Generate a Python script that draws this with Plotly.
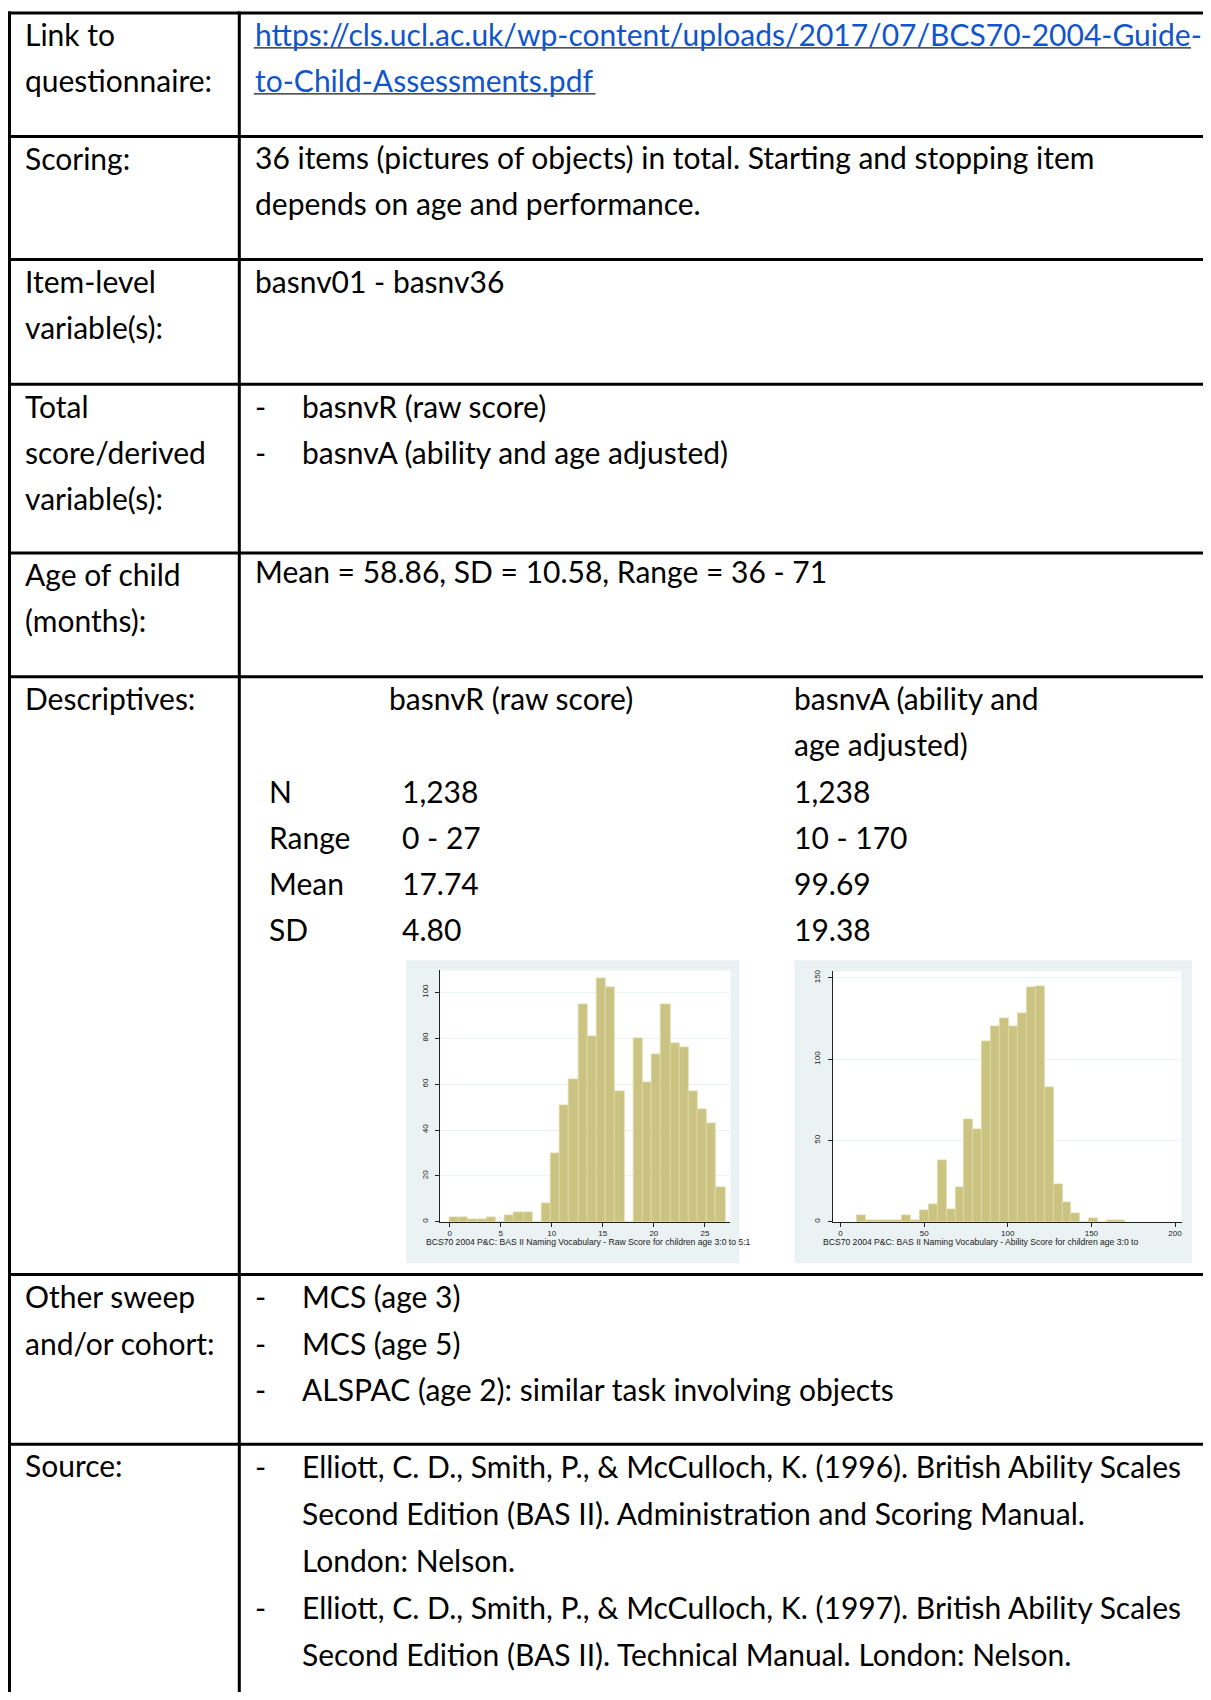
import plotly.graph_objects as go

PAGE_W, PAGE_H = 1211, 1700
OFF = 8  # default body margin of the html page
W, H = PAGE_W - OFF, PAGE_H - 2 * OFF

# ---------------- data ----------------
raw_bin_start = 0.0
raw_bin_width = 0.9
raw_counts = [2, 2, 1, 1, 2, 0, 3, 4, 4, 0, 8, 30, 51, 62, 95, 81, 106, 102, 57, 0,
              80, 61, 73, 95, 78, 76, 57, 49, 43, 15]
raw_xticks = [0, 5, 10, 15, 20, 25]
raw_yticks = [0, 20, 40, 60, 80, 100]
raw_caption = "BCS70 2004 P&C: BAS II Naming Vocabulary - Raw Score for children age 3:0 to 5:1"

abil_bin_start = 10.0
abil_bin_width = 160 / 30
abil_counts = [4, 1, 1, 1, 1, 4, 1, 7, 11, 38, 8, 21, 63, 57, 111, 120, 125, 120, 128, 144,
               145, 83, 23, 12, 5, 0, 2, 0, 1, 1]
abil_xticks = [0, 50, 100, 150, 200]
abil_yticks = [0, 50, 100, 150]
abil_caption = "BCS70 2004 P&C: BAS II Naming Vocabulary - Ability Score for children age 3:0 to"

row_labels = [["Link to", "questionnaire:"], ["Scoring:"], ["Item-level", "variable(s):"],
              ["Total", "score/derived", "variable(s):"], ["Age of child", "(months):"],
              ["Descriptives:"], ["Other sweep", "and/or cohort:"], ["Source:"]]
link_lines = ["https://cls.ucl.ac.uk/wp-content/uploads/2017/07/BCS70-2004-Guide-",
              "to-Child-Assessments.pdf"]
scoring_lines = ["36 items (pictures of objects) in total. Starting and stopping item",
                 "depends on age and performance."]
item_lines = ["basnv01 - basnv36"]
total_items = ["basnvR (raw score)", "basnvA (ability and age adjusted)"]
age_lines = ["Mean = 58.86, SD = 10.58, Range = 36 - 71"]
desc_head_raw = ["basnvR (raw score)"]
desc_head_abil = ["basnvA (ability and", "age adjusted)"]
desc_stats = ["N", "Range", "Mean", "SD"]
desc_raw_vals = ["1,238", "0 - 27", "17.74", "4.80"]
desc_abil_vals = ["1,238", "10 - 170", "99.69", "19.38"]
other_items = [["MCS (age 3)"], ["MCS (age 5)"], ["ALSPAC (age 2): similar task involving objects"]]
source_items = [["Elliott, C. D., Smith, P., & McCulloch, K. (1996). British Ability Scales",
                 "Second Edition (BAS II). Administration and Scoring Manual.",
                 "London: Nelson."],
                ["Elliott, C. D., Smith, P., & McCulloch, K. (1997). British Ability Scales",
                 "Second Edition (BAS II). Technical Manual. London: Nelson."]]

# ---------------- layout helpers ----------------
FONT = "Lato"
FS = 30
DESC = 0.213
LH = 46.2
BLACK = "#000000"
LINK = "#1155CC"

annotations = []
shapes = []


def X(px):
    return (px - OFF) / W


def Y(py):
    return 1 - (py - OFF) / H


def text(x, base, s, size=FS, color=BLACK, family=FONT):
    annotations.append(dict(
        x=X(x), y=Y(base + DESC * size), xref="paper", yref="paper",
        xanchor="left", yanchor="bottom", text=s, showarrow=False, borderpad=0,
        font=dict(family=family, size=size, color=color), align="left"))


def hline(y, x0=8, x1=PAGE_W + 40, w=3, color=BLACK):
    shapes.append(dict(type="line", xref="paper", yref="paper", x0=X(x0), x1=X(x1),
                       y0=Y(y), y1=Y(y), line=dict(color=color, width=w)))


def vline(x, y0, y1, w=3):
    shapes.append(dict(type="line", xref="paper", yref="paper", x0=X(x), x1=X(x),
                       y0=Y(y0), y1=Y(y1), line=dict(color=BLACK, width=w)))


def rect(x0, y0, x1, y1, fill):
    shapes.append(dict(type="rect", xref="paper", yref="paper", x0=X(x0), x1=X(x1),
                       y0=Y(y1), y1=Y(y0), fillcolor=fill, line=dict(width=0), layer="below"))


# table grid
row_tops = [11, 134.7, 258, 383, 552, 676, 1274.7, 1444.7]
for y in row_tops:
    hline(y)
vline(9.5, 9.5, PAGE_H + 20)
vline(239.5, 9.5, PAGE_H + 20)

# left column labels
LX = 24
for top, lines in zip(row_tops, row_labels):
    step = 47 if top > 1200 else LH
    for i, s in enumerate(lines):
        text(LX, top + 34 + i * step, s)

RX = 254
DX = 301
# link
for i, s in enumerate(link_lines):
    text(RX, 45 + i * LH, s, color=LINK)
shapes.append(dict(type="line", xref="paper", yref="paper", x0=X(254), x1=X(1192),
                   y0=Y(46), y1=Y(46), line=dict(color="#1a1a1a", width=1.3)))
shapes.append(dict(type="line", xref="paper", yref="paper", x0=X(254), x1=X(596),
                   y0=Y(92), y1=Y(92), line=dict(color="#1a1a1a", width=1.3)))
# scoring
for i, s in enumerate(scoring_lines):
    text(RX, 168 + i * LH, s)
for i, s in enumerate(item_lines):
    text(RX, 292 + i * LH, s)
for i, s in enumerate(total_items):
    text(RX, 417 + i * LH, "-")
    text(DX, 417 + i * LH, s)
for i, s in enumerate(age_lines):
    text(RX, 583 + i * LH, s)
# descriptives
for i, s in enumerate(desc_head_raw):
    text(388, 710 + i * LH, s)
for i, s in enumerate(desc_head_abil):
    text(793.5, 710 + i * LH, s)
for i, (a, b, c) in enumerate(zip(desc_stats, desc_raw_vals, desc_abil_vals)):
    base = 803 + i * LH
    text(268, base, a)
    text(401, base, b)
    text(793.5, base, c)
# other sweep
k = 0
for item in other_items:
    text(RX, 1309 + k * 46.8, "-")
    for s in item:
        text(DX, 1309 + k * 46.8, s)
        k += 1
k = 0
for item in source_items:
    text(RX, 1479.5 + k * 47, "-")
    for s in item:
        text(DX, 1479.5 + k * 47, s)
        k += 1

# ---------------- histograms ----------------
PANEL = "#EAF2F3"
BAR = "#CBC382"
BAR_EDGE = "#DED9A8"

rect(406.5, 960, 740, 1263.5, PANEL)
rect(795, 960, 1193, 1263.5, PANEL)
L_plot = (440, 970, 731, 1222)
R_plot = (833.5, 971, 1182.5, 1222)
rect(*L_plot, "white")
rect(*R_plot, "white")

fig = go.Figure()
raw_centers = [raw_bin_start + raw_bin_width * (i + 0.5) for i in range(len(raw_counts))]
abil_centers = [abil_bin_start + abil_bin_width * (i + 0.5) for i in range(len(abil_counts))]
fig.add_trace(go.Bar(x=raw_centers, y=raw_counts, width=raw_bin_width,
                     marker=dict(color=BAR, line=dict(color=BAR_EDGE, width=0.8)),
                     xaxis="x", yaxis="y", hoverinfo="skip"))
fig.add_trace(go.Bar(x=abil_centers, y=abil_counts, width=abil_bin_width,
                     marker=dict(color=BAR, line=dict(color=BAR_EDGE, width=0.8)),
                     xaxis="x2", yaxis="y2", hoverinfo="skip"))

TICKFONT = dict(family="Liberation Sans", size=8, color="#1a1a1a")


def xax(plot, rng, ticks, anchor):
    return dict(domain=[X(plot[0]), X(plot[2])], range=rng, anchor=anchor,
                tickmode="array", tickvals=ticks, ticks="outside", ticklen=4,
                tickcolor="#222", showline=True, linecolor="#222", linewidth=1,
                showgrid=False, zeroline=False, tickfont=TICKFONT, fixedrange=True)


def yax(plot, rng, ticks, anchor, standoff):
    return dict(domain=[Y(plot[3]), Y(plot[1])], range=rng, anchor=anchor,
                tickmode="array", tickvals=ticks, ticks="outside", ticklen=4,
                tickcolor="#222", showline=True, linecolor="#222", linewidth=1,
                showgrid=True, gridcolor=PANEL, gridwidth=1, zeroline=False,
                tickangle=-90, tickfont=TICKFONT, ticklabelstandoff=standoff,
                fixedrange=True)


fig.update_layout(
    width=W, height=H, margin=dict(l=0, r=0, t=0, b=0),
    paper_bgcolor="white", plot_bgcolor="rgba(0,0,0,0)", showlegend=False,
    bargap=0,
    xaxis=xax(L_plot, [-0.98, 27.5], raw_xticks, "y"),
    yaxis=yax(L_plot, [0, 109.6], raw_yticks, "x", 3),
    xaxis2=xax(R_plot, [-4.6, 203.9], abil_xticks, "y2"),
    yaxis2=yax(R_plot, [0, 154], abil_yticks, "x2", 5),
    shapes=shapes,
)

CAPFONT = "Liberation Sans"
text(425, 1246.5, raw_caption, size=8.6, color="#1a1a1a", family=CAPFONT)
text(822.5, 1246.5, abil_caption, size=8.6, color="#1a1a1a", family=CAPFONT)

fig.update_layout(annotations=annotations)
fig.write_html("out.html")
